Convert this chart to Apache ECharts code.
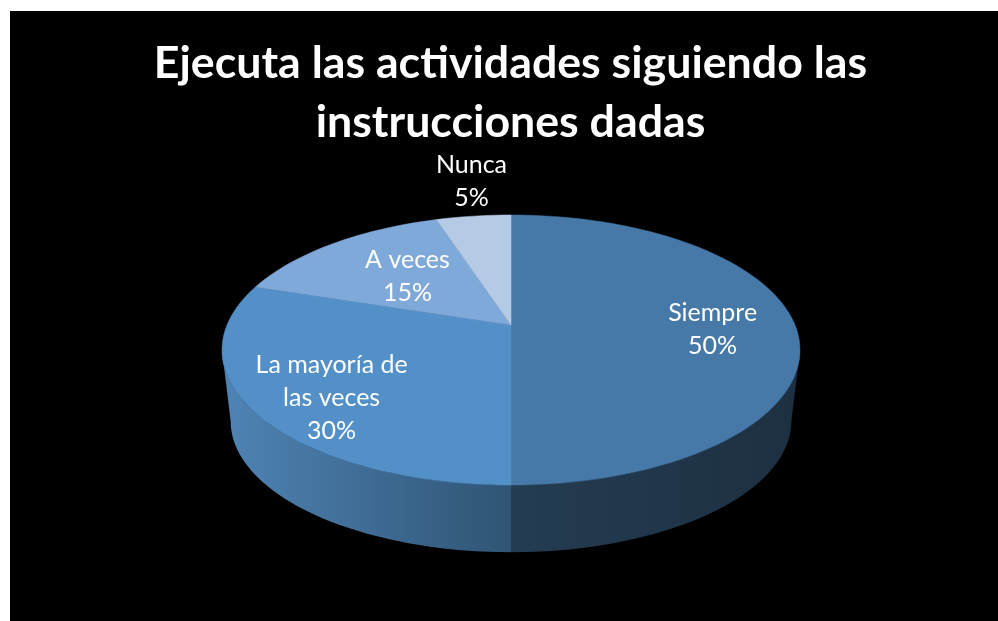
<!DOCTYPE html>
<html><head><meta charset="utf-8">
<style>html,body{margin:0;padding:0;background:#fff}#c{width:998px;height:621px}</style>
<script src="https://cdn.jsdelivr.net/npm/echarts@6/dist/echarts.min.js"></script>
</head><body><div id="c"></div>
<script>
const titleText = 'Ejecuta las actividades siguiendo las\ninstrucciones dadas';
const categories = ['Siempre', 'La mayoría de\nlas veces', 'A veces', 'Nunca'];
const values = [50, 30, 15, 5];
const topColors = ['#4679A8', '#5390C8', '#7FA9D9', '#B5CAE5'];
const wallFrom = ['#243C52', '#4F84B5', '#5F88B0', '#8A9BB0'];
const wallTo = ['#1D3041', '#2F5474', '#5F88B0', '#8A9BB0'];
const labelRadius = [0.71, 0.76, 0.57, 1.40];
const labelNudge = [[0, 4], [11, 9], [3, 0], [10, 0]];

const total = values.reduce((a, b) => a + b, 0);
const GEO = {cx: 511, cy: 325, A: 284, B: 130.4, p: 0.1852, scale: 0.97, bottomCy: 397};
const STEPS = 90;
const VISIBLE_FROM = Math.acos(-GEO.p);
const VISIBLE_TO = 2 * Math.PI - VISIBLE_FROM;
function project(theta, r, cy, s) {
  const u = Math.sin(theta) * r, v = -Math.cos(theta) * r, w = 1 - GEO.p * v;
  return [GEO.cx + s * GEO.A * u / w, cy + s * GEO.B * v / w];
}
function range(i) {
  let before = 0;
  for (let k = 0; k < i; k++) before += values[k];
  return [before / total * 2 * Math.PI, (before + values[i]) / total * 2 * Math.PI];
}
function arc(a0, a1, cy, s) {
  const pts = [];
  const n = Math.max(2, Math.ceil(STEPS * (a1 - a0) / Math.PI));
  for (let j = 0; j <= n; j++) pts.push(project(a0 + (a1 - a0) * j / n, 1, cy, s));
  return pts;
}
function renderWall(params, api) {
  const i = params.dataIndex;
  const r = range(i);
  const a0 = Math.max(r[0], VISIBLE_FROM), a1 = Math.min(r[1], VISIBLE_TO);
  if (a1 <= a0) return null;
  const top = arc(a0, a1, GEO.cy, 1);
  const bottom = arc(a0, a1, GEO.bottomCy, GEO.scale).reverse();
  const xs = top.map(p => p[0]);
  const xMin = Math.min.apply(null, xs), xMax = Math.max.apply(null, xs);
  return {
    type: 'polygon',
    shape: {points: top.concat(bottom)},
    style: {
      fill: new echarts.graphic.LinearGradient(
        i === 0 ? GEO.cx : xMin, 0, i === 0 ? xMax : GEO.cx, 0, [
        {offset: 0, color: wallFrom[i]},
        {offset: 1, color: wallTo[i]}
      ], true)
    }
  };
}
function renderTop(params, api) {
  const i = params.dataIndex;
  const [a0, a1] = range(i);
  const pts = [[GEO.cx, GEO.cy]].concat(arc(a0, a1, GEO.cy, 1));
  const mid = (a0 + a1) / 2;
  const pos = project(mid, labelRadius[i], GEO.cy, 1);
  return {
    type: 'group',
    children: [
      {type: 'polygon', shape: {points: pts}, style: {fill: topColors[i], stroke: topColors[i], lineWidth: 0.5}},
      {
        type: 'text', z2: 10,
        x: pos[0] + labelNudge[i][0], y: pos[1] + labelNudge[i][1],
        style: {
          text: categories[i] + '\n' + values[i] + '%',
          fill: '#fff', font: '25px Lato', lineHeight: 33,
          align: 'center', verticalAlign: 'middle'
        }
      }
    ]
  };
}
const chart = echarts.init(document.getElementById('c'), null, {renderer: 'canvas'});
chart.setOption({
  animation: false,
  backgroundColor: '#fff',
  graphic: [{type: 'rect', z: -10, silent: true, shape: {x: 10, y: 11, width: 988, height: 610}, style: {fill: '#000'}}],
  title: {
    text: titleText, left: 505.5, top: 29, textAlign: 'center',
    textStyle: {color: '#fff', fontFamily: 'Lato', fontWeight: 'bold', fontSize: 44.7, lineHeight: 59}
  },
  xAxis: {show: false}, yAxis: {show: false},
  series: [
    {type: 'custom', coordinateSystem: 'none', z: 1, renderItem: renderWall, data: values.slice(0, 2)},
    {type: 'custom', coordinateSystem: 'none', z: 2, renderItem: renderTop, data: values}
  ]
});
</script></body></html>
